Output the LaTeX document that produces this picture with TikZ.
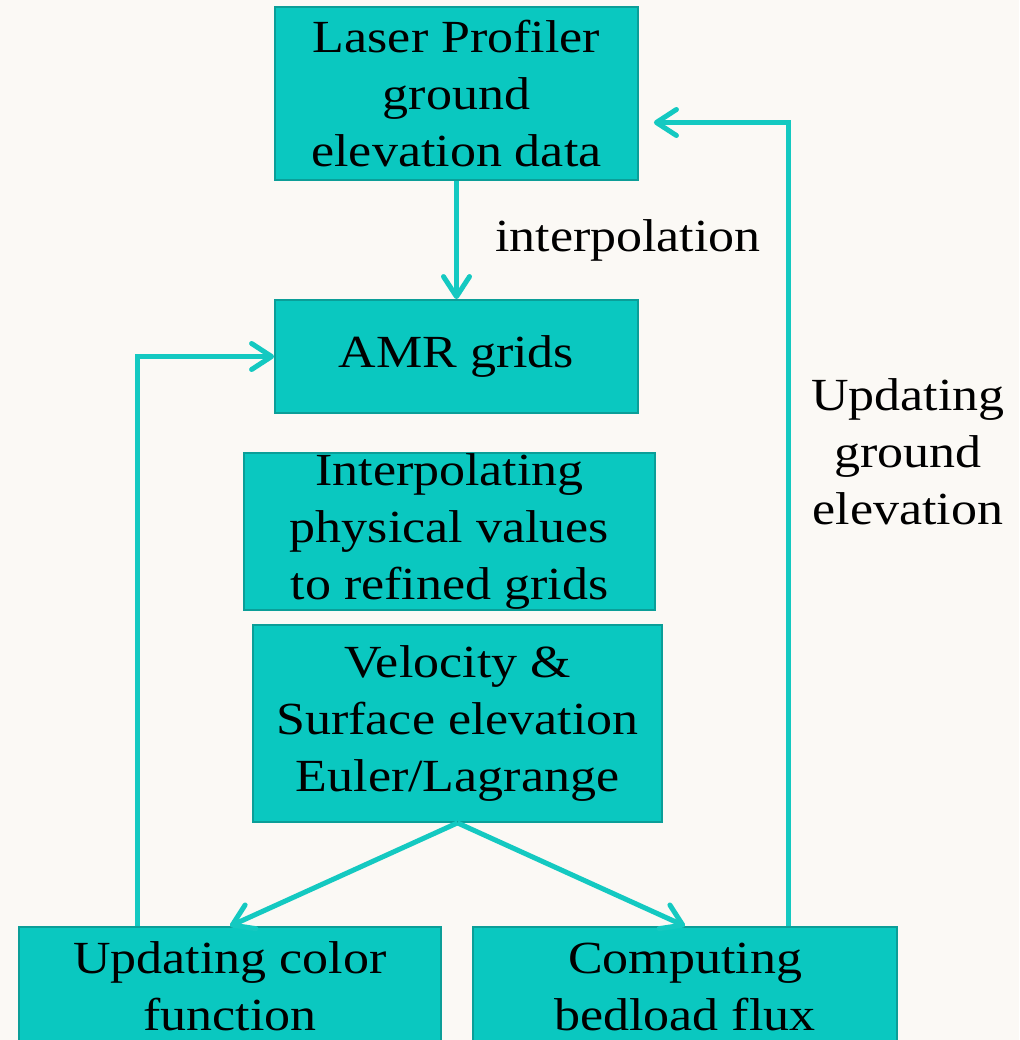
\documentclass[tikz,border=0pt]{standalone}
\usepackage{fontspec}
\setmainfont{Liberation Serif}[FakeStretch=1.13]
\usetikzlibrary{arrows.meta}
\definecolor{boxfill}{HTML}{0AC8C0}
\definecolor{boxline}{HTML}{0B9E98}
\definecolor{conn}{HTML}{14C9C1}
\definecolor{paper}{HTML}{FBF9F5}
\begin{document}
\begin{tikzpicture}[x=1pt,y=-1pt,
  box/.style={draw=boxline,line width=1.8pt,fill=boxfill,align=center,inner sep=0pt,
    font=\fontsize{46}{57}\selectfont,text=black},
  lbl/.style={align=center,font=\fontsize{46}{57}\selectfont,text=black},
  conline/.style={draw=conn,line width=5pt,line join=miter},
  tip/.style={-{Straight Barb[length=20pt,width=26pt,round]}}]
\useasboundingbox (0,0) rectangle (1019,1040);
\fill[paper] (0,0) rectangle (1019,1040);
\begin{scope}
\clip (0,0) rectangle (1019,1040);
\node[box,minimum width=363pt,minimum height=173pt] (laser) at (456.5,93.5)
  {Laser Profiler\\ground\\elevation data};
\node[box,minimum width=363pt,minimum height=113pt] (amr) at (456.5,356.5) {AMR grids};
\node[box,minimum width=411pt,minimum height=157pt] (interp) at (449.5,531.5)
  {Interpolating\\physical values\\to refined grids};
\node[box,minimum width=409pt,minimum height=197pt] (vel) at (457.5,723.5)
  {Velocity \&\\Surface elevation\\Euler/Lagrange};
\node[box,minimum width=422pt,minimum height=119pt] (color) at (230,986.5)
  {Updating color\\function};
\node[box,minimum width=424pt,minimum height=119pt] (flux) at (685,986.5)
  {Computing\\bedload flux};
\end{scope}
\node[lbl] (interpl) at (628,240) {interpolation};
\node[lbl] (updl) at (908,452) {Updating\\ground\\elevation};
\draw[conline,tip] (laser.south) -- (amr.north);
\draw[conline,tip] (vel.south) -- (color.north);
\draw[conline,tip] (vel.south) -- (flux.north);
\draw[conline,tip] ([xshift=119pt]color.north west) |- (amr.west);
\draw[conline,tip,shorten >=15pt] ([xshift=316pt]flux.north west) |- ([yshift=-29pt]laser.east);
\end{tikzpicture}
\end{document}
